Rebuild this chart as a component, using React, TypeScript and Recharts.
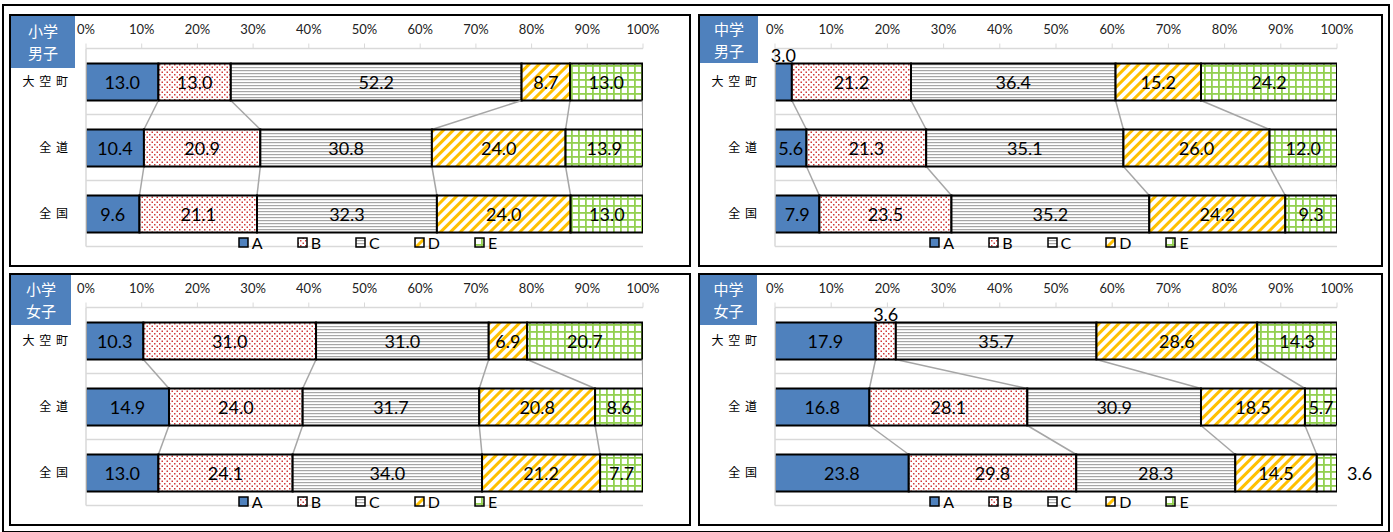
import { BarChart, Bar, XAxis, YAxis, CartesianGrid, Legend, LabelList } from 'recharts';

const categories = ['大 空 町', '全 道', '全 国'];
const seriesKeys = ['A', 'B', 'C', 'D', 'E'];
const pctTicks = [0, 10, 20, 30, 40, 50, 60, 70, 80, 90, 100];

// 小学男子
const elemBoysTown = [13.0, 13.0, 52.2, 8.7, 13.0];
const elemBoysHokkaido = [10.4, 20.9, 30.8, 24.0, 13.9];
const elemBoysNation = [9.6, 21.1, 32.3, 24.0, 13.0];
// 中学男子
const juniorBoysTown = [3.0, 21.2, 36.4, 15.2, 24.2];
const juniorBoysHokkaido = [5.6, 21.3, 35.1, 26.0, 12.0];
const juniorBoysNation = [7.9, 23.5, 35.2, 24.2, 9.3];
// 小学女子
const elemGirlsTown = [10.3, 31.0, 31.0, 6.9, 20.7];
const elemGirlsHokkaido = [14.9, 24.0, 31.7, 20.8, 8.6];
const elemGirlsNation = [13.0, 24.1, 34.0, 21.2, 7.7];
// 中学女子
const juniorGirlsTown = [17.9, 3.6, 35.7, 28.6, 14.3];
const juniorGirlsHokkaido = [16.8, 28.1, 30.9, 18.5, 5.7];
const juniorGirlsNation = [23.8, 29.8, 28.3, 14.5, 3.6];

const fills: Record<string, string> = {
  A: '#4f81bd',
  B: 'url(#pat-b)',
  C: 'url(#pat-c)',
  D: 'url(#pat-d)',
  E: 'url(#pat-e)',
};

const LATIN = 'Lato, "Liberation Sans", sans-serif';
const CJK = '"Noto Sans CJK JP", "Noto Sans", sans-serif';

const CHART_H = 249;
const X_AXIS_H = 30.5;
const Y_AXIS_W = 75;
const MARGIN_TOP = 2;
const MARGIN_BOTTOM = 18.5;

function makeRows(lists: number[][]) {
  return categories.map((name, i) => {
    const row: any = { name };
    seriesKeys.forEach((k, j) => (row[k] = lists[i][j]));
    return row;
  });
}

const cum = (row: any, n: number) => seriesKeys.slice(0, n).reduce((s, k) => s + row[k], 0);

// bar segment + gray series line to the same boundary of the next category
const makeShape = (rows: any[], keyIdx: number, step: number) => (p: any) => {
  const { x, y, width, height, index } = p;
  const key = seriesKeys[keyIdx];
  const row = rows[index];
  const ppu = width / row[key];
  const x0 = x - cum(row, keyIdx) * ppu;
  const next = rows[index + 1];
  return (
    <g>
      <rect x={x} y={y} width={width} height={height} fill={fills[key]} stroke="#000" strokeWidth={2} />
      {next && (
        <line
          x1={x + width}
          y1={y + height}
          x2={x0 + cum(next, keyIdx + 1) * ppu}
          y2={y + step}
          stroke="#a6a6a6"
          strokeWidth={1.5}
        />
      )}
    </g>
  );
};

const makeLabel = (isLast: boolean) => (p: any) => {
  const vb = p.viewBox || {};
  const x = p.x ?? vb.x;
  const y = p.y ?? vb.y;
  const width = p.width ?? vb.width;
  const height = p.height ?? vb.height;
  const v = Number(p.value);
  const common = { fontFamily: LATIN, fontSize: 18, fill: '#000', dominantBaseline: 'central' as const };
  if (v < 4) {
    if (isLast) {
      return (
        <text x={x + width + 10} y={y + height / 2} textAnchor="start" {...common}>
          {v.toFixed(1)}
        </text>
      );
    }
    return (
      <text x={x + width / 2} y={y - 9} textAnchor="middle" {...common}>
        {v.toFixed(1)}
      </text>
    );
  }
  return (
    <text x={x + width / 2} y={y + height / 2} textAnchor="middle" {...common}>
      {v.toFixed(1)}
    </text>
  );
};

const renderLegend = (props: any) => (
  <div style={{ display: 'flex', justifyContent: 'center', gap: 34, fontFamily: LATIN, fontSize: 16, color: '#000' }}>
    {(props.payload || []).map((entry: any) => (
      <span key={entry.value} style={{ display: 'flex', alignItems: 'center', gap: 3 }}>
        <svg width={11} height={11}>
          <rect x={1} y={1} width={9} height={9} fill={fills[entry.value]} stroke="#000" strokeWidth={1.5} />
        </svg>
        {entry.value}
      </span>
    ))}
  </div>
);

type PanelProps = {
  title: string[];
  lists: number[][];
  left: number;
  top: number;
  width: number;
  marginRight: number;
  boxW: number;
  boxH: number;
};

function Panel({ title, lists, left, top, width, marginRight, boxW, boxH }: PanelProps) {
  const rows = makeRows(lists);
  const chartW = width - 4;
  const plotH = CHART_H - MARGIN_TOP - X_AXIS_H - MARGIN_BOTTOM;
  const step = plotH / categories.length;
  const plotW = chartW - Y_AXIS_W - marginRight;
  return (
    <div
      style={{
        position: 'absolute',
        left,
        top,
        width,
        height: CHART_H + 4,
        border: '2px solid #000',
        boxSizing: 'border-box',
        background: '#fff',
      }}
    >
      <BarChart
        width={chartW}
        height={CHART_H}
        data={rows}
        layout="vertical"
        margin={{ top: MARGIN_TOP, right: marginRight, bottom: MARGIN_BOTTOM, left: 0 }}
        barSize={37}
      >
        <CartesianGrid
          vertical={false}
          stroke="#d9d9d9"
          strokeWidth={1.5}
          horizontalCoordinatesGenerator={(g: any) => {
            const o = g.offset || { top: MARGIN_TOP + X_AXIS_H, height: plotH };
            return categories.map((_, i) => o.top + ((i + 1) * o.height) / categories.length);
          }}
        />
        <XAxis
          type="number"
          orientation="top"
          domain={[0, 100]}
          allowDataOverflow
          ticks={pctTicks}
          tickFormatter={(v: number) => `${v}%`}
          height={X_AXIS_H}
          tick={{ fontFamily: LATIN, fontSize: 13, fill: '#222' }}
          axisLine={{ stroke: '#d9d9d9', strokeWidth: 1.5 }}
          tickLine={{ stroke: '#d9d9d9' }}
          tickSize={5}
          tickMargin={10}
        />
        <YAxis
          type="category"
          dataKey="name"
          width={Y_AXIS_W}
          tick={{ fontFamily: CJK, fontSize: 12, fill: '#000', letterSpacing: 1 }}
          axisLine={{ stroke: '#d9d9d9', strokeWidth: 1.5 }}
          tickLine={false}
          tickMargin={11}
        />
        <Legend
          verticalAlign="middle"
          align="center"
          content={renderLegend}
          wrapperStyle={{ top: CHART_H - 32, left: Y_AXIS_W + 3, width: plotW, height: 20 }}
        />
        {seriesKeys.map((k, i) => (
          <Bar
            key={k}
            dataKey={k}
            stackId="s"
            fill={fills[k]}
            stroke="#000"
            isAnimationActive={false}
            shape={makeShape(rows, i, step)}
          >
            <LabelList dataKey={k} content={makeLabel(i === seriesKeys.length - 1)} />
          </Bar>
        ))}
      </BarChart>
      <div
        style={{
          position: 'absolute',
          left: 0,
          top: 0,
          width: boxW,
          height: boxH,
          background: '#4f81bd',
          color: '#fff',
          fontFamily: CJK,
          fontSize: 15,
          lineHeight: '22px',
          display: 'flex',
          flexDirection: 'column',
          alignItems: 'center',
          justifyContent: 'center',
        }}
      >
        {title.map((t) => (
          <span key={t}>{t}</span>
        ))}
      </div>
    </div>
  );
}

export default function App() {
  return (
    <div style={{ position: 'absolute', left: 0, top: 0, width: 1393, height: 532, background: '#fff' }}>
      <svg width={0} height={0} style={{ position: 'absolute' }}>
        <defs>
          <pattern id="pat-b" width={5} height={5} patternUnits="userSpaceOnUse">
            <rect width={5} height={5} fill="#fff" />
            <rect x={0.5} y={0.5} width={1.5} height={1.5} fill="#d03a3a" />
            <rect x={3} y={3} width={1.5} height={1.5} fill="#d03a3a" />
          </pattern>
          <pattern id="pat-c" width={4} height={3} patternUnits="userSpaceOnUse">
            <rect width={4} height={3} fill="#fff" />
            <rect y={0} width={4} height={1.2} fill="#a6a6a6" />
          </pattern>
          <pattern id="pat-d" width={7} height={7} patternUnits="userSpaceOnUse" patternTransform="rotate(45)">
            <rect width={7} height={7} fill="#fff" />
            <rect x={0} width={3} height={7} fill="#ffc000" />
          </pattern>
          <pattern id="pat-e" width={7} height={7} patternUnits="userSpaceOnUse">
            <rect width={7} height={7} fill="#fff" />
            <rect x={0} width={1.8} height={7} fill="#92d050" />
            <rect y={0} width={7} height={1.8} fill="#92d050" />
          </pattern>
        </defs>
      </svg>
      <div
        style={{
          position: 'absolute',
          left: 2,
          top: 4,
          width: 1388,
          height: 529,
          border: '2px solid #000',
          boxSizing: 'border-box',
        }}
      />
      <Panel
        title={['小学', '男子']}
        lists={[elemBoysTown, elemBoysHokkaido, elemBoysNation]}
        left={9}
        top={14}
        width={682}
        marginRight={46}
        boxW={64}
        boxH={52}
      />
      <Panel
        title={['中学', '男子']}
        lists={[juniorBoysTown, juniorBoysHokkaido, juniorBoysNation]}
        left={698}
        top={14}
        width={685}
        marginRight={44}
        boxW={58}
        boxH={47}
      />
      <Panel
        title={['小学', '女子']}
        lists={[elemGirlsTown, elemGirlsHokkaido, elemGirlsNation]}
        left={9}
        top={273}
        width={682}
        marginRight={46}
        boxW={60}
        boxH={50}
      />
      <Panel
        title={['中学', '女子']}
        lists={[juniorGirlsTown, juniorGirlsHokkaido, juniorGirlsNation]}
        left={698}
        top={273}
        width={685}
        marginRight={44}
        boxW={57}
        boxH={50}
      />
    </div>
  );
}
